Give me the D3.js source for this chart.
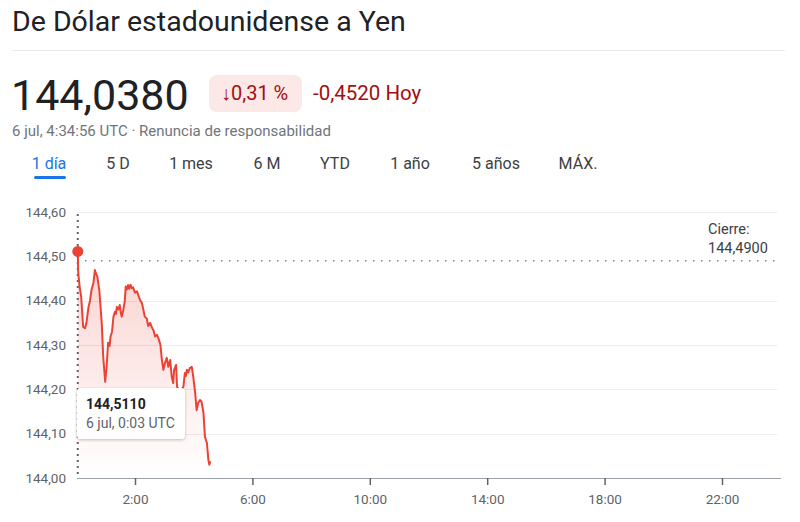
<!DOCTYPE html>
<html>
<head>
<meta charset="utf-8">
<script src="https://cdn.jsdelivr.net/npm/d3@7"></script>
<style>
  body { margin: 0; background: #fff; }
  svg { display: block; font-family: Roboto, Arial, sans-serif; }
</style>
</head>
<body>
<svg id="chart" width="800" height="522"></svg>
<script>
// USD/JPY intraday, 6 jul (UTC)
const times = [
  '0:03', '0:04', '0:07', '0:10', '0:14', '0:18', '0:21', '0:25', '0:28', '0:31',
  '0:35', '0:38', '0:40', '0:43', '0:47', '0:52', '0:55', '0:59', '1:02', '1:05',
  '1:08', '1:10', '1:13', '1:16', '1:19', '1:21', '1:23', '1:26', '1:29', '1:31',
  '1:33', '1:36', '1:39', '1:41', '1:43', '1:46', '1:48', '1:51', '1:53', '1:56',
  '2:00', '2:04', '2:07', '2:10', '2:14', '2:17', '2:20', '2:24', '2:27', '2:31',
  '2:34', '2:38', '2:41', '2:45', '2:48', '2:52', '2:55', '2:58', '3:01', '3:05',
  '3:08', '3:12', '3:15', '3:18', '3:20', '3:24', '3:26', '3:32', '3:39', '3:42',
  '3:44', '3:46', '3:49', '3:52', '3:56', '3:59', '4:03', '4:06', '4:09', '4:13',
  '4:16', '4:20', '4:23', '4:27', '4:30', '4:32', '4:34'
];
const prices = [
  144.511, 144.462, 144.430, 144.409, 144.341, 144.338, 144.352, 144.386, 144.400, 144.424,
  144.440, 144.469, 144.462, 144.454, 144.424, 144.350, 144.274, 144.217, 144.251, 144.305,
  144.298, 144.319, 144.330, 144.364, 144.375, 144.370, 144.386, 144.380, 144.390, 144.372,
  144.364, 144.379, 144.398, 144.432, 144.425, 144.435, 144.427, 144.436, 144.428, 144.430,
  144.418, 144.421, 144.412, 144.402, 144.395, 144.380, 144.364, 144.360, 144.343, 144.350,
  144.341, 144.332, 144.319, 144.323, 144.315, 144.300, 144.266, 144.244, 144.259, 144.271,
  144.251, 144.266, 144.229, 144.214, 144.244, 144.255, 144.206, 144.194, 144.206, 144.237,
  144.230, 144.244, 144.238, 144.248, 144.251, 144.229, 144.192, 144.153, 144.169, 144.176,
  144.172, 144.147, 144.093, 144.079, 144.041, 144.030, 144.038
];
const yTicks = [144.0, 144.1, 144.2, 144.3, 144.4, 144.5, 144.6];
const xTickLabels = ['2:00', '6:00', '10:00', '14:00', '18:00', '22:00'];
const tabs = ['1 día', '5 D', '1 mes', '6 M', 'YTD', '1 año', '5 años', 'MÁX.'];
const closePrice = 144.49;

const day = '2023-07-06';
const parseT = (s) => new Date(`${day}T${s.padStart(5, '0')}:00Z`);
const data = times.map((t, i) => ({ date: parseT(t), value: prices[i] }));

const es = d3.formatLocale({ decimal: ',', thousands: '.', grouping: [3], currency: ['', ' €'] });
const fmt2 = es.format('.2f');
const fmt4 = es.format('.4f');

const svg = d3.select('#chart');

// header
svg.append('text').attr('x', 12).attr('y', 31)
  .attr('font-size', 28.5).attr('fill', '#202124')
  .text('De Dólar estadounidense a Yen');
svg.append('line').attr('x1', 12).attr('x2', 785).attr('y1', 50.5).attr('y2', 50.5)
  .attr('stroke', '#e8eaed');

svg.append('text').attr('x', 11).attr('y', 110)
  .attr('font-size', 43).attr('fill', '#202124')
  .text(fmt4(prices[prices.length - 1]));

svg.append('rect').attr('x', 209).attr('y', 75).attr('width', 93).attr('height', 37)
  .attr('rx', 8).attr('fill', '#fce8e6');
svg.append('text').attr('x', 221).attr('y', 100)
  .attr('font-size', 20).attr('fill', '#a50e0e')
  .text('↓0,31 %');
svg.append('text').attr('x', 313).attr('y', 100)
  .attr('font-size', 20.5).attr('fill', '#a50e0e')
  .text('-0,4520 Hoy');

svg.append('text').attr('x', 12).attr('y', 136)
  .attr('font-size', 15).attr('fill', '#70757a')
  .text('6 jul, 4:34:56 UTC · Renuncia de responsabilidad');

const tabX = [49, 118, 191, 267, 335, 410, 496, 578];
svg.selectAll('text.tab')
  .data(tabs)
  .join('text')
  .attr('class', 'tab')
  .attr('x', (d, i) => tabX[i])
  .attr('y', 169)
  .attr('text-anchor', 'middle')
  .attr('font-size', 16)
  .attr('fill', (d, i) => (i === 0 ? '#1a73e8' : '#3c4043'))
  .text((d) => d);
svg.append('rect').attr('x', 34).attr('y', 176).attr('width', 32).attr('height', 3)
  .attr('rx', 1.5).attr('fill', '#1a73e8');

// chart
const xScale = d3.scaleUtc()
  .domain([parseT('0:00'), new Date(`2023-07-07T00:00:00Z`)])
  .range([76.3, 780.7]);
const yScale = d3.scaleLinear()
  .domain([144.0, 144.6])
  .range([478, 212]);

// grid
svg.append('g')
  .selectAll('line')
  .data(yTicks.filter((d) => d > 144.0 && Math.abs(d - 144.5) > 1e-9))
  .join('line')
  .attr('x1', 77).attr('x2', 777)
  .attr('y1', (d) => Math.round(yScale(d)) + 0.5)
  .attr('y2', (d) => Math.round(yScale(d)) + 0.5)
  .attr('stroke', '#ececec');

svg.append('g')
  .selectAll('text')
  .data(yTicks)
  .join('text')
  .attr('x', 66)
  .attr('y', (d) => yScale(d))
  .attr('dy', '0.35em')
  .attr('text-anchor', 'end')
  .attr('font-size', 13.5)
  .attr('fill', '#5f6368')
  .text((d) => fmt2(d));

// x axis
const xAxis = d3.axisBottom(xScale)
  .tickValues(xTickLabels.map(parseT))
  .tickFormat(d3.utcFormat('%-H:%M'))
  .tickSize(7)
  .tickSizeOuter(0);
const gx = svg.append('g').attr('transform', 'translate(0,478)').call(xAxis);
gx.select('.domain').attr('stroke', '#9aa0a6').attr('d', 'M77,0.5H781');
gx.selectAll('.tick line').attr('stroke', '#5f6368').attr('stroke-width', 1.5);
gx.selectAll('.tick text')
  .attr('font-family', 'Roboto, Arial, sans-serif')
  .attr('font-size', 13.5).attr('fill', '#5f6368').attr('dy', '1.2em');

// area gradient
const defs = svg.append('defs');
const grad = defs.append('linearGradient').attr('id', 'fillGrad')
  .attr('x1', 0).attr('x2', 0).attr('y1', 0).attr('y2', 1);
grad.append('stop').attr('offset', '0%').attr('stop-color', '#ea4335').attr('stop-opacity', 0.24);
grad.append('stop').attr('offset', '100%').attr('stop-color', '#ea4335').attr('stop-opacity', 0);

const shadow = defs.append('filter').attr('id', 'shadow')
  .attr('x', '-20%').attr('y', '-30%').attr('width', '140%').attr('height', '170%');
shadow.append('feDropShadow').attr('dx', 0).attr('dy', 1).attr('stdDeviation', 1.5)
  .attr('flood-color', '#000').attr('flood-opacity', 0.25);

const area = d3.area()
  .x((d) => xScale(d.date))
  .y0(yScale(144.0))
  .y1((d) => yScale(d.value));
svg.append('path').datum(data)
  .attr('d', area)
  .attr('fill', 'url(#fillGrad)');

// close line
svg.append('line')
  .attr('x1', 85).attr('x2', 777)
  .attr('y1', yScale(closePrice)).attr('y2', yScale(closePrice))
  .attr('stroke', '#80868b').attr('stroke-width', 1.5)
  .attr('stroke-dasharray', '1.5,6.5');
svg.append('text').attr('x', 708).attr('y', yScale(closePrice) - 27)
  .attr('font-size', 14.5).attr('fill', '#3c4043').text('Cierre:');
svg.append('text').attr('x', 708).attr('y', yScale(closePrice) - 8)
  .attr('font-size', 14.5).attr('fill', '#3c4043').text(fmt4(closePrice));

// crosshair
const first = data[0];
svg.append('line')
  .attr('x1', xScale(first.date)).attr('x2', xScale(first.date))
  .attr('y1', 214).attr('y2', 478)
  .attr('stroke', '#5f6368').attr('stroke-width', 2)
  .attr('stroke-dasharray', '2,4');

const lineGen = d3.line()
  .x((d) => xScale(d.date))
  .y((d) => yScale(d.value));
svg.append('path').datum(data)
  .attr('d', lineGen)
  .attr('fill', 'none')
  .attr('stroke', '#ea4335')
  .attr('stroke-width', 2)
  .attr('stroke-linejoin', 'round');

svg.append('circle')
  .attr('cx', xScale(first.date)).attr('cy', yScale(first.value))
  .attr('r', 5.5).attr('fill', '#ea4335');

// tooltip
const tip = svg.append('g').attr('transform', 'translate(77,388)');
tip.append('rect').attr('width', 108).attr('height', 51).attr('rx', 4)
  .attr('fill', '#fff').attr('filter', 'url(#shadow)');
tip.append('text').attr('x', 9).attr('y', 21)
  .attr('font-size', 14).attr('font-weight', 'bold').attr('fill', '#202124')
  .text(fmt4(first.value));
tip.append('text').attr('x', 9).attr('y', 40)
  .attr('font-size', 14).attr('fill', '#5f6368')
  .text('6 jul, 0:03 UTC');
</script>
</body>
</html>
